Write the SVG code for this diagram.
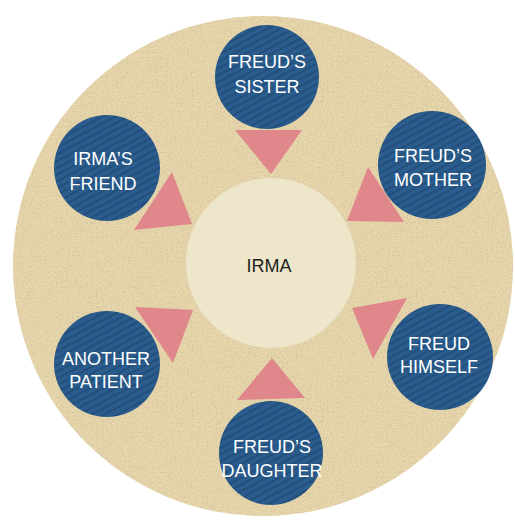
<svg xmlns="http://www.w3.org/2000/svg" width="515" height="520" viewBox="0 0 515 520">
  <defs>
    <!-- diagonal pinstripe for the outer figure discs -->
    <pattern id="stripes" width="6" height="6" patternUnits="userSpaceOnUse" patternTransform="rotate(-28)">
      <rect width="6" height="6" fill="#2C5D8D"/>
      <rect width="6" height="2" y="0" fill="#234F7C"/>
    </pattern>
    <!-- paper grain for the large background disc -->
    <filter id="grain" x="0" y="0" width="100%" height="100%">
      <feTurbulence type="fractalNoise" baseFrequency="0.8" numOctaves="2" seed="7" result="n"/>
      <feColorMatrix in="n" type="matrix" values="0 0 0 0 0.62  0 0 0 0 0.52  0 0 0 0 0.36  0 0 0 -3 1.55" result="specks"/>
      <feComposite in="specks" in2="SourceGraphic" operator="in" result="clip"/>
      <feMerge>
        <feMergeNode in="SourceGraphic"/>
        <feMergeNode in="clip"/>
      </feMerge>
    </filter>
    <filter id="soft" x="-10%" y="-10%" width="120%" height="120%">
      <feGaussianBlur stdDeviation="0.6"/>
    </filter>
  </defs>
  <style>
    .figure { fill: url(#stripes); filter: url(#soft); }
    .label { font-family: "Liberation Sans", Arial, sans-serif; font-size: 18px; fill: #FFFFFF; text-anchor: middle; }
    .center-label { font-family: "Liberation Sans", Arial, sans-serif; font-size: 18px; fill: #231F20; text-anchor: middle; }
    .arrow { fill: #E0878B; }
  </style>

  <rect width="515" height="520" fill="#FFFFFF"/>

  <!-- background disc -->
  <circle cx="263" cy="266" r="250" fill="#E7D6AA" filter="url(#grain)"/>

  <!-- central node -->
  <g id="irma">
    <circle cx="271" cy="263" r="85" fill="#EDE6CA"/>
    <text class="center-label" x="269" y="272">IRMA</text>
  </g>

  <!-- arrows pointing inward -->
  <g id="connectors">
    <polygon class="arrow" points="235,130 302,130 271,174"/>
    <polygon class="arrow" points="172,172 134,230 192,224"/>
    <polygon class="arrow" points="368,167 347,221 404,222"/>
    <polygon class="arrow" points="135,307 193,310 173,363"/>
    <polygon class="arrow" points="352,308 407,298 373,359"/>
    <polygon class="arrow" points="272,358 237,400 305,398"/>
  </g>

  <g id="freuds-sister">
    <circle class="figure" cx="267" cy="77" r="52"/>
    <text class="label" x="267" y="68">FREUD’S</text>
    <text class="label" x="267" y="93">SISTER</text>
  </g>

  <g id="irmas-friend">
    <circle class="figure" cx="107" cy="168" r="53"/>
    <text class="label" x="103" y="165">IRMA’S</text>
    <text class="label" x="103" y="190">FRIEND</text>
  </g>

  <g id="freuds-mother">
    <circle class="figure" cx="432" cy="165" r="54"/>
    <text class="label" x="433" y="162">FREUD’S</text>
    <text class="label" x="433" y="186">MOTHER</text>
  </g>

  <g id="another-patient">
    <circle class="figure" cx="107" cy="364" r="53"/>
    <text class="label" x="106" y="365">ANOTHER</text>
    <text class="label" x="106" y="388">PATIENT</text>
  </g>

  <g id="freud-himself">
    <circle class="figure" cx="440" cy="357" r="53"/>
    <text class="label" x="439" y="350">FREUD</text>
    <text class="label" x="439" y="373">HIMSELF</text>
  </g>

  <g id="freuds-daughter">
    <circle class="figure" cx="271" cy="453" r="52"/>
    <text class="label" x="272" y="453">FREUD’S</text>
    <text class="label" x="272" y="477">DAUGHTER</text>
  </g>
</svg>
